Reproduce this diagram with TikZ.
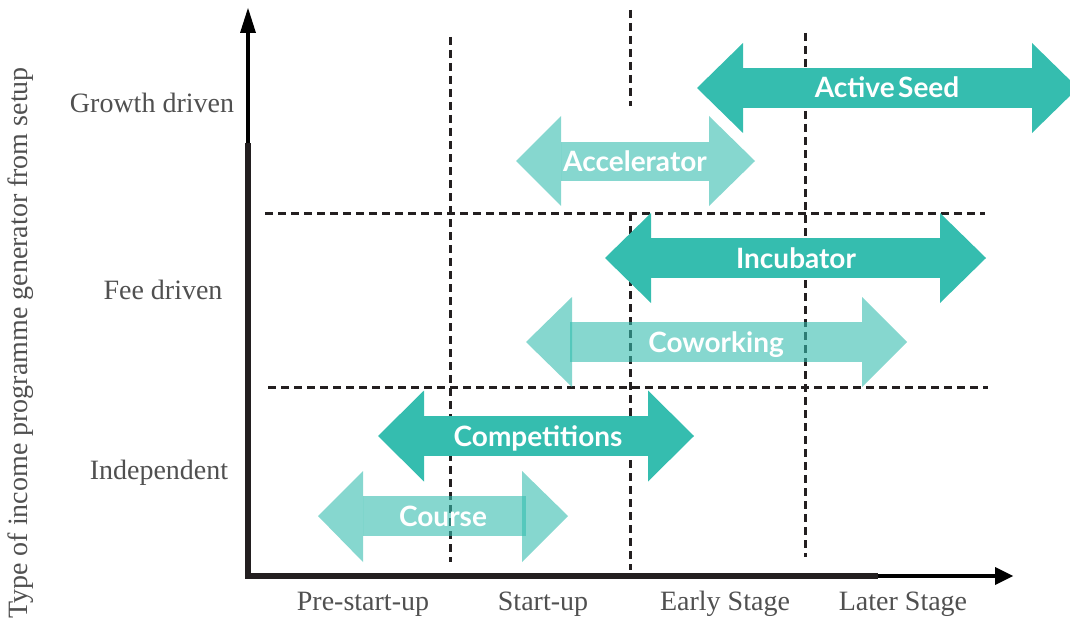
\documentclass[tikz,border=0pt]{standalone}
\usepackage{fontspec}
\setmainfont{Liberation Serif}
\newfontfamily\lato{Lato}
\definecolor{tealdark}{HTML}{35BDAF}
\definecolor{axisc}{HTML}{231F20}
\definecolor{labc}{HTML}{505050}
\tikzset{
 gridline/.style={axisc, line width=3pt, dash pattern=on 8pt off 5pt},
 darkfill/.style={fill=tealdark},
 lightfill/.style={fill=tealdark, fill opacity=0.6},
 barlabel/.style={text=white, font=\lato\bfseries\fontsize{28}{32}\selectfont, anchor=base, inner sep=0pt},
 axlabel/.style={text=labc, font=\fontsize{28}{33}\selectfont, anchor=base, inner sep=0pt},
}
% #1 style, #2 left tip, #3 left base, #4 right base, #5 right tip, #6 centre y, #7 head half, #8 shaft half, #9 shaft overlap left
\newcommand{\twoheadbar}[9]{%
  \fill[#1] ({#2},{#6}) -- ({#3},{#6-#7}) -- ({#3},{#6+#7}) -- cycle;
  \fill[#1] ({#5},{#6}) -- ({#4},{#6-#7}) -- ({#4},{#6+#7}) -- cycle;
  \fill[#1] ({#3-#9},{#6-#8}) rectangle ({#4},{#6+#8});
}
\begin{document}
\begin{tikzpicture}[x=1pt,y=-1pt]
\useasboundingbox (0,0) rectangle (1070,623);
% grid lines
\draw[gridline] (450,37) -- (450,562);
\draw[gridline] (630,10) -- (630,106);
\draw[gridline] (630,213) -- (630,570);
\draw[gridline] (805,33) -- (805,557);
\draw[gridline] (265,213) -- (985,213);
\draw[gridline] (268,387) -- (988,387);
% axes
\coordinate (O) at (248,576);
\coordinate (Ymid) at (248,143);
\coordinate (Ybase) at (248,31);
\coordinate (Ytip) at (248,8);
\coordinate (Xmid) at (878,576);
\coordinate (Xbase) at (996,576);
\coordinate (Xtip) at (1013,576);
\draw[axisc, line width=6.2pt, miter limit=10] (Ymid) -- (O) -- (Xmid);
\draw[black, line width=4.4pt] (Ymid) -- (Ybase);
\draw[black, line width=4.4pt] (Xmid) -- (Xbase);
\fill[black] (Ytip) -- (240,33) -- (256,33) -- cycle;
\fill[black] (Xtip) -- (995,567) -- (995,585) -- cycle;
% bars
\twoheadbar{darkfill}{697}{743}{1032}{1078}{88}{45}{20}{0}
\twoheadbar{lightfill}{516}{561}{709}{755}{161}{45}{19.5}{0}
\twoheadbar{darkfill}{605}{651}{940}{986}{258}{45}{20}{0}
\fill[lightfill] (526,342) -- (572,297) -- (572,387) -- cycle;
\fill[lightfill] (907,342) -- (862,297) -- (862,387) -- cycle;
\fill[lightfill] (570,322) rectangle (862,362);
\twoheadbar{darkfill}{378}{424}{648}{694}{436}{45.5}{20}{0}
\fill[lightfill] (318,516) -- (363,471) -- (363,562) -- cycle;
\fill[lightfill] (568,516) -- (522,471) -- (522,562) -- cycle;
\fill[lightfill] (363,496) rectangle (526,536);
% bar labels
\node[barlabel] (seed) at (887,98) {Active\hspace{-0.12em} Seed};
\node[barlabel] (acc) at (635,171) {Accelerator};
\node[barlabel] (inc) at (796,268) {Incubator};
\node[barlabel] (cow) at (716,352) {Coworking};
\node[barlabel] (comp) at (538,446) {Competitions};
\node[barlabel] (course) at (443,526) {Course};
% axis labels
\node[axlabel] (gd) at (152,113) {Growth driven};
\node[axlabel] (fd) at (163,299) {Fee driven};
\node[axlabel] (ind) at (159,479) {Independent};
\node[axlabel] (x1) at (363,610) {Pre-start-up};
\node[axlabel] (x2) at (543,610) {Start-up};
\node[axlabel] (x3) at (725,610) {Early Stage};
\node[axlabel] (x4) at (903,610) {Later Stage};
\node[axlabel, rotate=90, anchor=center] (ylab) at (21,343) {Type of income programme generator from setup};
\end{tikzpicture}
\end{document}
